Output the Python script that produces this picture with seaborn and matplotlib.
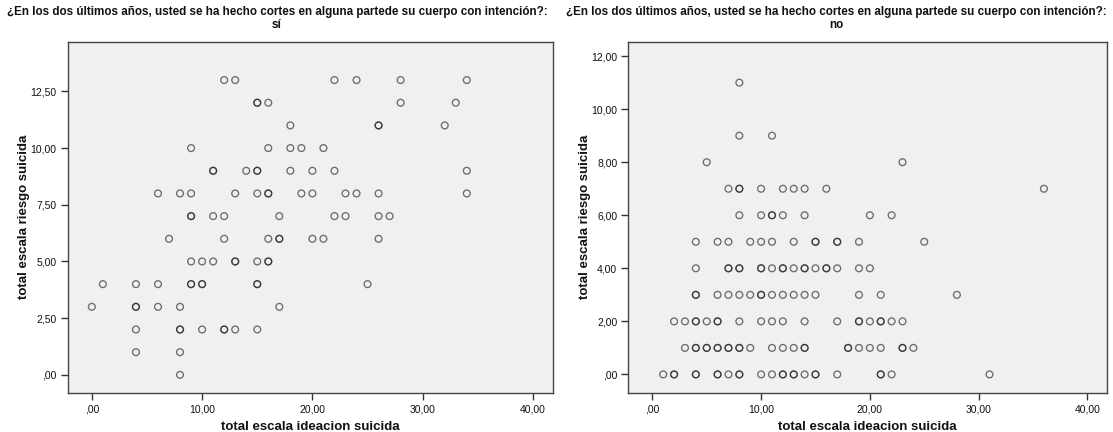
import matplotlib
matplotlib.use("Agg")
import matplotlib.pyplot as plt
from matplotlib.ticker import FuncFormatter, FixedLocator
import pandas as pd
import seaborn as sns

# Panel "sí": suicidal ideation score vs. suicide risk score (repeated pairs listed twice)
si_ideacion = [12, 13, 22, 24, 28, 34,
               15, 15, 16, 28, 33,
               18, 26, 26, 32,
               9, 16, 18, 19, 21,
               11, 11, 14, 15, 15, 18, 20, 22, 34,
               6, 8, 9, 13, 15, 16, 16, 19, 20, 23, 24, 26, 34,
               9, 9, 11, 12, 17, 22, 23, 26, 27,
               7, 12, 16, 17, 17, 20, 21, 26,
               9, 10, 11, 13, 13, 15, 16, 16,
               1, 4, 6, 9, 9, 10, 10, 15, 15, 25,
               0, 4, 4, 6, 8, 17,
               4, 8, 8, 10, 12, 12, 13, 15,
               4, 8,
               8]
si_riesgo = ([13] * 6 + [12] * 5 + [11] * 4 + [10] * 5 + [9] * 9 + [8] * 13
             + [7] * 9 + [6] * 8 + [5] * 8 + [4] * 10 + [3] * 6 + [2] * 8
             + [1] * 2 + [0] * 1)

# Panel "no"
no_ideacion = [8,
               8, 11,
               5, 23,
               7, 8, 8, 10, 12, 13, 14, 16, 36,
               8, 10, 11, 11, 12, 14, 20, 22,
               4, 6, 7, 9, 10, 11, 13, 15, 15, 17, 17, 19, 25,
               4, 7, 7, 8, 8, 10, 10, 11, 12, 12, 13, 14, 14, 15, 16, 16, 17, 19, 20,
               4, 4, 6, 7, 8, 9, 10, 10, 11, 12, 13, 14, 15, 19, 21, 28,
               2, 3, 4, 4, 5, 6, 6, 8, 10, 11, 12, 14, 17, 19, 19, 20, 21, 21, 22, 23,
               3, 4, 4, 5, 5, 6, 6, 7, 7, 8, 8, 9, 11, 12, 13, 14, 14, 18, 18, 19, 20,
               21, 23, 23, 24,
               1, 2, 2, 4, 4, 6, 6, 7, 8, 8, 10, 11, 12, 12, 13, 13, 14, 15, 15, 17,
               21, 21, 22, 31]
no_riesgo = ([11] * 1 + [9] * 2 + [8] * 2 + [7] * 9 + [6] * 8 + [5] * 13
             + [4] * 19 + [3] * 16 + [2] * 20 + [1] * 25 + [0] * 24)

x_ticks = [0, 10, 20, 30, 40]
si_y_ticks = [0, 2.5, 5, 7.5, 10, 12.5]
no_y_ticks = [0, 2, 4, 6, 8, 10, 12]

pregunta = ("¿En los dos últimos años, usted se ha hecho cortes en alguna "
            "partede su cuerpo con intención?:")
grupos = ["sí", "no"]
x_label = "total escala ideacion suicida"
y_label = "total escala riesgo suicida"

sns.set_style("white")
plt.rcParams["font.family"] = ["Liberation Sans", "DejaVu Sans"]


def spss_number(v, _pos=None):
    s = f"{v:.2f}".replace(".", ",")
    if s.startswith("0,"):
        s = s[1:]
    return s


fig = plt.figure(figsize=(11.13, 4.32), dpi=100)
ax_si = fig.add_axes([0.0607, 0.0903, 0.4360, 0.8136])
ax_no = fig.add_axes([0.5646, 0.0903, 0.4300, 0.8136])

panels = [
    (ax_si, si_ideacion, si_riesgo, si_y_ticks, (-0.80, 14.70), 277),
    (ax_no, no_ideacion, no_riesgo, no_y_ticks, (-0.70, 12.55), 836),
]

for (ax, xs, ys, yt, ylim, title_x), grupo in zip(panels, grupos):
    df = pd.DataFrame({"ideacion": xs, "riesgo": ys})
    sns.scatterplot(data=df, x="ideacion", y="riesgo", ax=ax, marker="o",
                    s=24, facecolor="none", edgecolor=(0.10, 0.10, 0.10, 0.62),
                    linewidth=0.95, legend=False)
    ax.set_facecolor("#f0f0f0")
    ax.set_xlim(-2.2, 41.8)
    ax.set_ylim(*ylim)
    ax.xaxis.set_major_locator(FixedLocator(x_ticks))
    ax.yaxis.set_major_locator(FixedLocator(yt))
    ax.xaxis.set_major_formatter(FuncFormatter(spss_number))
    ax.yaxis.set_major_formatter(FuncFormatter(spss_number))
    ax.tick_params(axis="both", which="major", direction="out", length=5,
                   width=1, color="#333333", labelsize=7.5, labelcolor="#111111",
                   pad=3, bottom=True, left=True)
    for sp in ax.spines.values():
        sp.set_visible(True)
        sp.set_color("#444444")
        sp.set_linewidth(1.0)
    ax.set_xlabel(x_label, fontsize=9.5, fontweight="bold", color="#111111")
    ax.set_ylabel(y_label, fontsize=9.5, fontweight="bold", color="#111111")
    ax.xaxis.set_label_coords(0.5, -0.080)
    ax.yaxis.set_label_coords(-0.078, 0.5)
    fig.text(title_x / 1113, 1 - 12 / 432, pregunta, ha="center", va="center",
             fontsize=8.4, fontweight="bold", color="#111111")
    fig.text(title_x / 1113, 1 - 25 / 432, grupo, ha="center", va="center",
             fontsize=8.4, fontweight="bold", color="#111111")

fig.savefig("out.png", dpi=100, facecolor="white")
